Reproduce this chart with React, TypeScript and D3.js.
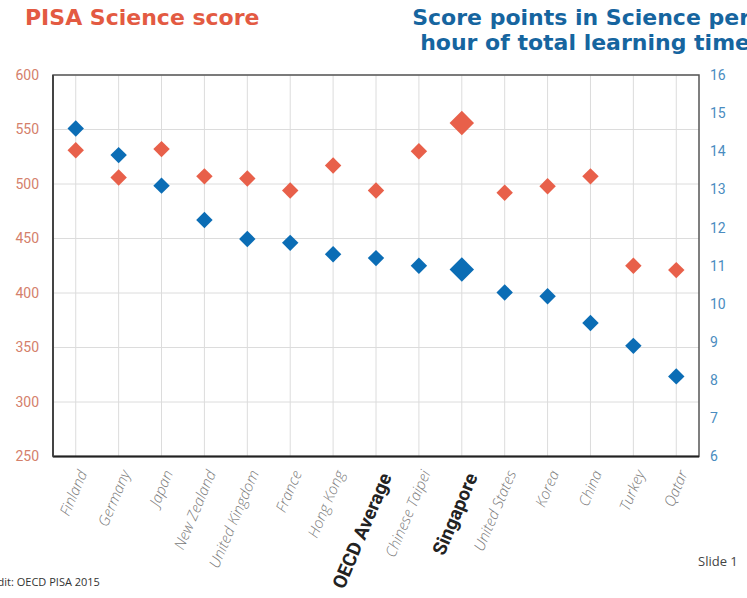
import * as d3 from "d3";

const countries = [
  "Finland",
  "Germany",
  "Japan",
  "New Zealand",
  "United Kingdom",
  "France",
  "Hong Kong",
  "OECD Average",
  "Chinese Taipei",
  "Singapore",
  "United States",
  "Korea",
  "China",
  "Turkey",
  "Qatar",
];
const scienceScore = [531, 506, 532, 507, 505, 494, 517, 494, 530, 556, 492, 498, 507, 425, 421];
const pointsPerHour = [14.6, 13.9, 13.1, 12.2, 11.7, 11.6, 11.3, 11.2, 11.0, 10.9, 10.3, 10.2, 9.5, 8.9, 8.1];
const boldLabels = ["OECD Average", "Singapore"];
const bigMarker = "Singapore";
const leftTicks = [250, 300, 350, 400, 450, 500, 550, 600];
const rightTicks = [6, 7, 8, 9, 10, 11, 12, 13, 14, 15, 16];

const ORANGE = "#e8604a";
const BLUE = "#0b6db5";

export default function App() {
  const W = 747;
  const H = 598;
  const left = 53;
  const right = 699;
  const top = 75;
  const bottom = 456.5;

  const x = d3.scalePoint<string>().domain(countries).range([left, right]).padding(0.53);
  const yL = d3.scaleLinear().domain([250, 600]).range([bottom, top]);
  const yR = d3.scaleLinear().domain([6, 16]).range([bottom, top]);
  const diamond = (c: string) =>
    d3.symbol().type(d3.symbolSquare).size(c === bigMarker ? 300 : 135)() ?? "";

  return (
    <svg
      width={W}
      height={H}
      viewBox={`0 0 ${W} ${H}`}
      style={{ position: "absolute", left: 0, top: 0, background: "#fff" }}
    >
      <text x={25} y={25} fill="#e35a42" fontFamily="DejaVu Sans" fontWeight={700} fontSize={22}>
        PISA Science score
      </text>
      <text textAnchor="end" fill="#16659f" fontFamily="DejaVu Sans" fontWeight={700} fontSize={22}>
        <tspan x={750} y={25}>Score points in Science per</tspan>
        <tspan x={750} y={50}>hour of total learning time</tspan>
      </text>

      {/* grid */}
      {leftTicks.map((t) => (
        <line key={"h" + t} x1={left} x2={right} y1={yL(t)} y2={yL(t)} stroke="#dcdcdc" strokeWidth={1} />
      ))}
      {countries.map((c) => (
        <line key={"v" + c} x1={x(c)} x2={x(c)} y1={top} y2={bottom} stroke="#dcdcdc" strokeWidth={1} />
      ))}

      {/* frame */}
      <rect x={left} y={top} width={right - left} height={bottom - top} fill="none" stroke="#555" strokeWidth={1.5} />
      <line x1={left} x2={right} y1={bottom} y2={bottom} stroke="#222" strokeWidth={2} />
      <line x1={left} x2={left} y1={top} y2={bottom} stroke="#444" strokeWidth={2} />

      {/* axes */}
      {leftTicks.map((t) => (
        <text key={"l" + t} x={39} y={yL(t)} dy="0.35em" textAnchor="end" fill="#d4806b" fontFamily="Roboto" fontSize={14}>
          {t}
        </text>
      ))}
      {rightTicks.map((t) => (
        <text key={"r" + t} x={710} y={yR(t)} dy="0.35em" fill="#4a8cc0" fontFamily="Roboto" fontSize={14}>
          {t}
        </text>
      ))}

      {/* markers */}
      {countries.map((c, i) => (
        <path
          key={"o" + c}
          d={diamond(c)}
          transform={`translate(${x(c)},${yL(scienceScore[i])}) rotate(45)`}
          fill={ORANGE}
        />
      ))}
      {countries.map((c, i) => (
        <path
          key={"b" + c}
          d={diamond(c)}
          transform={`translate(${x(c)},${yR(pointsPerHour[i])}) rotate(45)`}
          fill={BLUE}
        />
      ))}

      {/* category labels */}
      {countries.map((c) => {
        const bold = boldLabels.includes(c);
        return (
          <text
            key={"c" + c}
            transform={`translate(${(x(c) ?? 0) + (bold ? 10 : 7)},${bold ? 474 : 471}) rotate(-67)`}
            dy="0.35em"
            textAnchor="end"
            fontFamily={bold ? "Roboto" : "Open Sans"}
            fontStyle={bold ? "normal" : "italic"}
            fontWeight={bold ? 700 : 300}
            fontSize={bold ? 19 : 15}
            fill={bold ? "#222" : "#7a7a7a"}
          >
            {c}
          </text>
        );
      })}

      <text x={698} y={566} fill="#444" fontFamily="Open Sans" fontSize={13}>
        Slide 1
      </text>
      <text x={-20} y={586} fill="#333" fontFamily="Open Sans" fontSize={11}>
        Credit: OECD PISA 2015
      </text>
    </svg>
  );
}
